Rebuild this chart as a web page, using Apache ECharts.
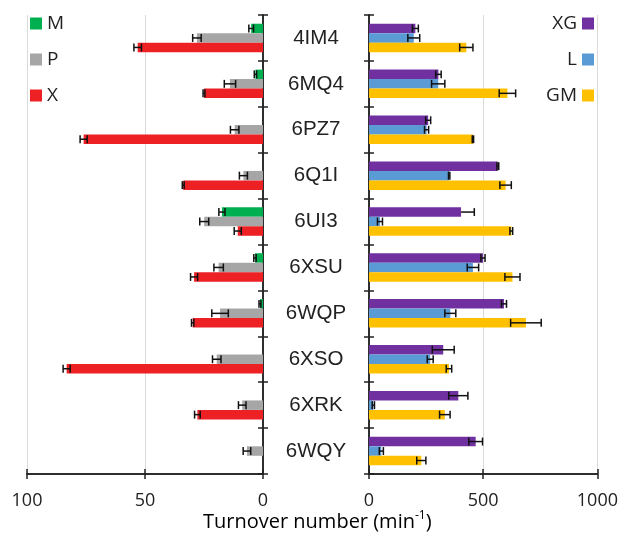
<!DOCTYPE html>
<html><head><meta charset="utf-8">
<script src="https://cdn.jsdelivr.net/npm/echarts@6/dist/echarts.min.js"></script>
<style>html,body{margin:0;padding:0;background:#fff}#c{width:621px;height:533px}</style>
</head><body><div id="c"></div>
<script>
const categories = ['4IM4','6MQ4','6PZ7','6Q1I','6UI3','6XSU','6WQP','6XSO','6XRK','6WQY'];
const leftTicks = [0, 50, 100];
const rightTicks = [0, 500, 1000];
// left panel
const M  = [5, 3.2, 0, 0, 17.4, 3.4, 1.3, 0, 0, 0];
const errM = [1, 0.5, 0, 0, 1.3, 0.5, 0.4, 0, 0, 0];
const P  = [28, 14, 12, 8.3, 24.9, 18.8, 18.2, 19.6, 8.8, 6.8];
const errP = [1.8, 2.4, 1.8, 1.7, 1.9, 2, 3.5, 1.8, 1.6, 1.6];
const X  = [53.1, 25, 76, 33.8, 10.7, 29.2, 29.8, 83.2, 27.8, 0];
const errX = [1.6, 0.4, 1.5, 0.4, 1.5, 1.5, 0.5, 1.5, 1.2, 0];
// right panel
const XG = [203, 304, 259, 564, 403, 499, 591, 325, 391, 467];
const errXGplus  = [13, 12, 11, 4, 58, 9, 11, 48, 42, 30];
const errXGminus = [13, 12, 11, 4, 0, 9, 11, 48, 42, 30];
const L  = [196, 303, 252, 351, 48, 455, 356, 268, 19, 54];
const errL = [26, 29, 9, 3, 11, 25, 24, 13, 5, 9];
const GM = [426, 606, 455, 598, 623, 628, 687, 350, 332, 229];
const errGM = [29, 36, 3, 25, 6, 33, 67, 12, 23, 20];

const FONT = 'Open Sans';
const CATFONT = 'Liberation Sans';
const TXT = '#222';
const GAP = 0.38;

function errData(vals, minus, plus) {
  return vals.map((v, i) => [v, i, minus[i], plus[i]]);
}
function errSeries(name, data, xi, yi, k) {
  return {
    type: 'custom', name: name + '_err', xAxisIndex: xi, yAxisIndex: yi, z: 10,
    silent: true, data: data,
    encode: { x: 0, y: 1 },
    renderItem: function (params, api) {
      const v = api.value(0), c = api.value(1), lo = api.value(2), hi = api.value(3);
      if (!v || (lo === 0 && hi === 0)) return null;
      const band = api.size([0, 1])[1];
      const bw = band * (1 - GAP) / 3;
      const yc = api.coord([v, c])[1] + (k - 1) * bw;
      const x1 = api.coord([v - lo, c])[0];
      const x2 = api.coord([v + hi, c])[0];
      const h = bw * 0.42;
      const st = { stroke: '#111', lineWidth: 1.5 };
      const children = [
        { type: 'line', shape: { x1: x1, y1: yc, x2: x2, y2: yc }, style: st },
        { type: 'line', shape: { x1: x2, y1: yc - h, x2: x2, y2: yc + h }, style: st }
      ];
      if (lo > 0) children.push({ type: 'line', shape: { x1: x1, y1: yc - h, x2: x1, y2: yc + h }, style: st });
      return { type: 'group', children: children };
    }
  };
}
function barSeries(name, data, color, xi, yi) {
  return {
    type: 'bar', name: name, data: data, xAxisIndex: xi, yAxisIndex: yi,
    barGap: '0%', barCategoryGap: (GAP * 100) + '%',
    itemStyle: { color: color }
  };
}
const tickStyle = { lineStyle: { color: TXT, width: 1.5 }, length: 5 };
function valAxis(gi, min, max, interval, inverse, main, ticks) {
  return {
    type: 'value', gridIndex: gi, min: min, max: max, interval: interval, inverse: inverse,
    position: 'bottom',
    axisLine: { show: true, onZero: false, lineStyle: { color: TXT, width: 1.5 } },
    axisTick: Object.assign({ show: true, inside: !main }, tickStyle),
    axisLabel: main ? { show: true, fontFamily: FONT, fontSize: 18, color: TXT, margin: 18,
      formatter: function (v) { return ticks.indexOf(v) >= 0 ? String(v) : ''; } } : { show: false },
    splitLine: main ? { show: true, lineStyle: { color: '#d9d9d9', width: 1 } } : { show: false }
  };
}
function catAxis(gi, pos, main, labels) {
  return {
    type: 'category', gridIndex: gi, data: categories, inverse: true, position: pos,
    axisLine: { show: true, onZero: false, lineStyle: { color: TXT, width: 1.5 } },
    axisTick: Object.assign({ show: true, inside: !main }, tickStyle),
    axisLabel: labels ? { show: true, fontFamily: CATFONT, fontSize: 20.5, color: TXT, margin: 53, align: 'center' } : { show: false },
    splitLine: { show: false }
  };
}

const chart = echarts.init(document.getElementById('c'), null, { renderer: 'canvas' });
chart.setOption({
  animation: false,
  textStyle: { fontFamily: FONT },
  grid: [
    { left: 27, right: 358, top: 15, bottom: 59 },
    { left: 369, right: 22, top: 15, bottom: 59 }
  ],
  xAxis: [
    valAxis(0, 0, 100, 50, true, true, leftTicks),
    valAxis(0, 0, 100, 50, true, false, leftTicks),
    valAxis(1, 0, 1000, 500, false, true, rightTicks),
    valAxis(1, 0, 1000, 500, false, false, rightTicks)
  ],
  yAxis: [
    catAxis(0, 'right', true, true),
    catAxis(0, 'right', false, false),
    catAxis(1, 'left', true, false),
    catAxis(1, 'left', false, false)
  ],
  legend: [
    { data: ['M', 'P', 'X'], orient: 'vertical', left: 25, top: 9, itemWidth: 12, itemHeight: 12,
      itemGap: 17, icon: 'rect', align: 'left',
      textStyle: { fontFamily: FONT, fontSize: 19, color: TXT } },
    { data: ['XG', 'L', 'GM'], orient: 'vertical', right: 22, top: 9, itemWidth: 12, itemHeight: 12,
      itemGap: 17, icon: 'rect', align: 'right',
      textStyle: { fontFamily: FONT, fontSize: 19, color: TXT } }
  ],
  graphic: [{
    type: 'text', left: 203, top: 510,
    style: {
      text: '{a|Turnover number (min}{s|-1}{a|)}',
      rich: {
        a: { fontFamily: FONT, fontSize: 20, color: TXT, lineHeight: 24 },
        s: { fontFamily: FONT, fontSize: 12, color: TXT, verticalAlign: 'top', lineHeight: 13 }
      }
    }
  }],
  series: [
    barSeries('M', M, '#00B050', 0, 0),
    barSeries('P', P, '#A6A6A6', 0, 0),
    barSeries('X', X, '#ED2024', 0, 0),
    barSeries('XG', XG, '#7030A0', 2, 2),
    barSeries('L', L, '#5B9BD5', 2, 2),
    barSeries('GM', GM, '#FFC000', 2, 2),
    errSeries('M', errData(M, errM, errM), 0, 0, 0),
    errSeries('P', errData(P, errP, errP), 0, 0, 1),
    errSeries('X', errData(X, errX, errX), 0, 0, 2),
    errSeries('XG', errData(XG, errXGminus, errXGplus), 2, 2, 0),
    errSeries('L', errData(L, errL, errL), 2, 2, 1),
    errSeries('GM', errData(GM, errGM, errGM), 2, 2, 2)
  ]
});
</script></body></html>
